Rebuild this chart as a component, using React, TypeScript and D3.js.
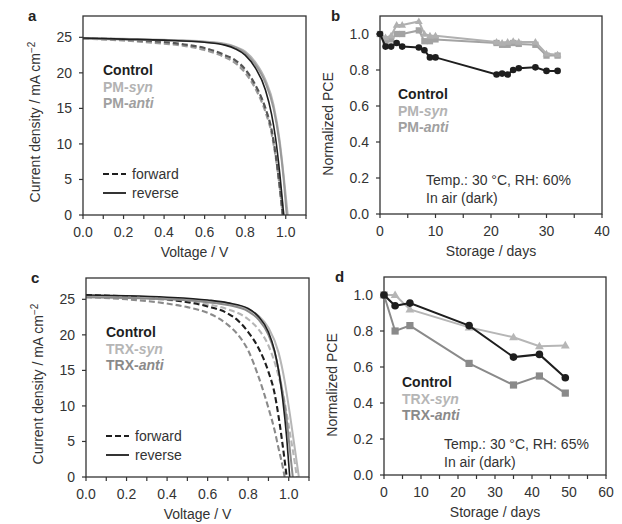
import React from "react";
import * as d3 from "d3";

const FONT = "'Liberation Sans', Arial, Helvetica, sans-serif";

// ---- J-V curves (voltage V, current density mA cm-2) ----
const ctrlRevA = [[0,24.9],[0.2,24.75],[0.4,24.6],[0.6,24.3],[0.7,23.9],[0.75,23.4],[0.8,22.5],[0.85,20.7],[0.9,17.6],[0.93,14.2],[0.95,10.8],[0.97,6.0],[0.99,0]];
const synRevA = [[0,24.9],[0.2,24.8],[0.4,24.65],[0.6,24.4],[0.7,24.1],[0.75,23.7],[0.8,23.0],[0.85,21.5],[0.9,19.0],[0.94,15.5],[0.97,10.5],[0.99,5.5],[1.01,0]];
const antiRevA = [[0,24.8],[0.2,24.7],[0.4,24.6],[0.6,24.35],[0.7,24.0],[0.75,23.6],[0.8,22.8],[0.85,21.2],[0.9,18.6],[0.94,15.0],[0.97,10.0],[0.99,5.0],[1.005,0]];
const ctrlFwdA = [[0,24.9],[0.2,24.7],[0.3,24.55],[0.4,24.35],[0.5,24.0],[0.6,23.5],[0.7,22.5],[0.75,21.8],[0.8,20.5],[0.85,18.3],[0.9,15.0],[0.93,12.0],[0.95,8.5],[0.97,4.0],[0.985,0]];
const synFwdA = [[0,24.9],[0.2,24.6],[0.4,24.2],[0.5,23.9],[0.6,23.4],[0.7,22.4],[0.75,21.6],[0.8,20.3],[0.85,18.2],[0.9,15.0],[0.93,12.0],[0.95,8.8],[0.97,4.5],[0.99,0]];
const antiFwdA = [[0,24.8],[0.2,24.55],[0.4,24.1],[0.5,23.8],[0.6,23.2],[0.7,22.2],[0.75,21.4],[0.8,20.0],[0.85,17.8],[0.9,14.5],[0.93,11.5],[0.95,8.2],[0.97,4.0],[0.985,0]];

const ctrlRevC = [[0,25.6],[0.2,25.5],[0.4,25.3],[0.6,24.9],[0.7,24.5],[0.8,23.7],[0.85,22.6],[0.9,20.4],[0.93,17.8],[0.95,15.0],[0.97,11.0],[0.99,5.5],[1.005,0]];
const synRevC = [[0,25.4],[0.2,25.3],[0.4,25.1],[0.6,24.8],[0.7,24.4],[0.8,23.6],[0.85,22.7],[0.9,21.0],[0.95,17.5],[0.98,13.5],[1.01,8.0],[1.035,3.0],[1.05,0]];
const antiRevC = [[0,25.3],[0.2,25.2],[0.4,25.0],[0.6,24.6],[0.7,24.2],[0.8,23.3],[0.85,22.2],[0.9,20.0],[0.93,17.6],[0.96,13.5],[0.99,8.0],[1.005,4.0],[1.02,0]];
const ctrlFwdC = [[0,25.6],[0.2,25.4],[0.4,25.0],[0.5,24.6],[0.6,24.0],[0.7,23.0],[0.75,22.0],[0.8,20.4],[0.85,18.2],[0.9,14.8],[0.93,11.8],[0.95,8.5],[0.97,4.5],[0.99,0]];
const synFwdC = [[0,25.4],[0.2,25.2],[0.4,24.9],[0.6,24.3],[0.7,23.6],[0.8,22.2],[0.85,20.8],[0.9,18.5],[0.95,14.2],[0.98,10.5],[1.01,5.5],[1.03,2.0],[1.04,0]];
const antiFwdC = [[0,25.3],[0.2,25.0],[0.4,24.4],[0.5,23.9],[0.6,23.1],[0.65,22.4],[0.7,21.4],[0.75,20.0],[0.8,17.8],[0.85,14.2],[0.9,9.7],[0.93,6.6],[0.95,4.0],[0.97,1.5],[0.98,0]];

// ---- stability (days, normalized PCE) ----
const daysB = [0,1,2,3,4,7,8,9,10,21,22,23,24,25,28,30,32];
const ctrlB = [1.0,0.93,0.93,0.95,0.93,0.925,0.91,0.87,0.87,0.775,0.78,0.775,0.80,0.81,0.815,0.795,0.795];
const synB = [1.0,0.98,0.99,1.05,1.05,1.07,1.0,0.99,0.99,0.955,0.95,0.955,0.96,0.955,0.955,0.89,0.885];
const antiB = [1.0,0.96,0.97,1.0,1.0,1.02,0.96,0.96,0.97,0.95,0.94,0.94,0.95,0.945,0.94,0.88,0.88];

const daysD = [0,3,7,23,35,42,49];
const ctrlD = [1.0,0.94,0.955,0.83,0.655,0.67,0.54];
const synD = [1.0,1.0,0.92,0.82,0.765,0.715,0.72];
const antiD = [1.0,0.80,0.83,0.62,0.50,0.55,0.455];

const BLACK = "#1e1e1e";
const LIGHT = "#b6b6b6";
const MID = "#999999";
const DARKGREY = "#8a8a8a";

function Frame({ x, y, xTicks, yTicks, xLabels, yLabels, xFmt, yFmt }) {
  const [x0, x1] = x.range();
  const [y0, y1] = y.range();
  return (
    <g fontFamily={FONT} fontSize={14} fill="#333">
      <rect x={x0} y={y1} width={x1 - x0} height={y0 - y1} fill="none" stroke="#333" strokeWidth={1.3} />
      {xTicks.map((t) => (
        <line key={"xt" + t} x1={x(t)} x2={x(t)} y1={y0} y2={y0 + 4} stroke="#333" strokeWidth={1.2} />
      ))}
      {yTicks.map((t) => (
        <line key={"yt" + t} x1={x0 - 4} x2={x0} y1={y(t)} y2={y(t)} stroke="#333" strokeWidth={1.2} />
      ))}
      {xLabels.map((t) => (
        <text key={"xl" + t} x={x(t)} y={y0 + 22} textAnchor="middle">{xFmt(t)}</text>
      ))}
      {yLabels.map((t) => (
        <text key={"yl" + t} x={x0 - 11} y={y(t) + 5} textAnchor="end">{yFmt(t)}</text>
      ))}
    </g>
  );
}

function JVPanel({ top, left, letter, curves, names, colors }) {
  const x = d3.scaleLinear().domain([0, 1.1]).range([left, left + 223]);
  const y = d3.scaleLinear().domain([0, 28]).range([top + 199, top]);
  const line = d3.line().x((d) => x(d[0])).y((d) => y(d[1])).curve(d3.curveMonotoneX);
  const fmt = d3.format(".1f");
  const b = y(0);
  return (
    <g>
      <defs>
        <clipPath id={"clip" + letter}>
          <rect x={left} y={top} width={223} height={199} />
        </clipPath>
      </defs>
      <g clipPath={`url(#clip${letter})`} fill="none">
        {curves.map((c, i) => (
          <path key={i} d={line(c.data)} stroke={c.color}
            strokeWidth={c.dash ? 2.1 : c.color === BLACK ? 1.6 : 2}
            strokeDasharray={c.dash ? "6,3" : null} />
        ))}
      </g>
      <Frame x={x} y={y} xTicks={d3.range(0, 1.11, 0.1)} yTicks={d3.range(0, 26, 5)}
        xLabels={d3.range(0, 1.01, 0.2)} yLabels={d3.range(0, 26, 5)}
        xFmt={fmt} yFmt={(t) => String(t)} />
      <text x={left - 55} y={top + 5} fontFamily={FONT} fontSize={15} fontWeight="bold" fill="#222">{letter}</text>
      <text transform={`translate(${left - 43},${top + 106}) rotate(-90)`} textAnchor="middle"
        fontFamily={FONT} fontSize={14} fill="#333">
        Current density / mA cm<tspan dy={-5} fontSize={10}>−2</tspan>
      </text>
      <text x={(left + x(1.1)) / 2} y={b + 42} textAnchor="middle" fontFamily={FONT} fontSize={14} fill="#333">Voltage / V</text>
      <g fontFamily={FONT} fontSize={14} fontWeight="bold">
        {names.map((n, i) => (
          <text key={n[0]} x={left + 20} y={top + 59 + i * 16.5} fill={colors[i]}>
            {n[0]}{n[1] && <tspan fontStyle="italic">{n[1]}</tspan>}
          </text>
        ))}
      </g>
      <g fontFamily={FONT} fontSize={14} fill="#333">
        <line x1={left + 20} x2={left + 43} y1={b - 41} y2={b - 41} stroke={BLACK} strokeWidth={2} strokeDasharray="6,3" />
        <text x={left + 49} y={b - 36}>forward</text>
        <line x1={left + 20} x2={left + 43} y1={b - 22} y2={b - 22} stroke={BLACK} strokeWidth={1.8} />
        <text x={left + 49} y={b - 17}>reverse</text>
      </g>
    </g>
  );
}

function Marker({ kind, cx, cy, color, s }) {
  if (kind === "circle") return <circle cx={cx} cy={cy} r={s * 0.5} fill={color} />;
  if (kind === "square") return <rect x={cx - s * 0.45} y={cy - s * 0.45} width={s * 0.9} height={s * 0.9} fill={color} />;
  const h = s * 0.95;
  return <path d={`M${cx},${cy - h * 0.6}L${cx + h * 0.58},${cy + h * 0.4}L${cx - h * 0.58},${cy + h * 0.4}Z`} fill={color} />;
}

function StabilityPanel({ top, left, letter, xMax, days, series, names, colors, note, legendY, noteY, ms }) {
  const x = d3.scaleLinear().domain([0, xMax]).range([left, left + 222]);
  const y = d3.scaleLinear().domain([0, 1.1]).range([top + 198, top]);
  const line = d3.line().x((d, i) => x(days[i])).y((d) => y(d));
  const fmt = d3.format(".1f");
  return (
    <g>
      <Frame x={x} y={y} xTicks={d3.range(0, xMax + 1, 5)} yTicks={d3.range(0, 1.01, 0.2)}
        xLabels={d3.range(0, xMax + 1, 10)} yLabels={d3.range(0, 1.01, 0.2)}
        xFmt={(t) => String(t)} yFmt={fmt} />
      {series.map((s, si) => (
        <g key={si}>
          <path d={line(s.values)} fill="none" stroke={s.color} strokeWidth={2} />
          {s.values.map((v, i) => (
            <Marker key={i} kind={s.marker} cx={x(days[i])} cy={y(v)} color={s.color} s={s.marker === "circle" ? ms * 0.95 : ms} />
          ))}
        </g>
      ))}
      <text x={left - 49} y={top + 5} fontFamily={FONT} fontSize={15} fontWeight="bold" fill="#222">{letter}</text>
      <text transform={`translate(${left - 47},${top + 108}) rotate(-90)`} textAnchor="middle"
        fontFamily={FONT} fontSize={14} fill="#333">Normalized PCE</text>
      <text x={left + 111} y={y(0) + 42} textAnchor="middle" fontFamily={FONT} fontSize={14} fill="#333">Storage / days</text>
      <g fontFamily={FONT} fontSize={14} fontWeight="bold">
        {names.map((n, i) => (
          <text key={n[0]} x={left + 18} y={legendY + i * 16.5} fill={colors[i]}>
            {n[0]}{n[1] && <tspan fontStyle="italic">{n[1]}</tspan>}
          </text>
        ))}
      </g>
      <g fontFamily={FONT} fontSize={14} fill="#333">
        <text x={note[0]} y={noteY}>{note[1]}</text>
        <text x={note[0]} y={noteY + 18}>In air (dark)</text>
      </g>
    </g>
  );
}

export default function App() {
  const namesA = [["Control", ""], ["PM-", "syn"], ["PM-", "anti"]];
  const namesC = [["Control", ""], ["TRX-", "syn"], ["TRX-", "anti"]];
  return (
    <svg width={622} height={524} style={{ position: "absolute", left: 0, top: 0, background: "#fff" }}>
      <rect width={622} height={524} fill="#fff" />
      <JVPanel top={16} left={83} letter="a" names={namesA} colors={[BLACK, "#b3b3b3", "#a0a0a0"]}
        curves={[
          { data: synFwdA, color: LIGHT, dash: true },
          { data: antiFwdA, color: MID, dash: true },
          { data: ctrlFwdA, color: "#555", dash: true },
          { data: synRevA, color: LIGHT },
          { data: antiRevA, color: MID },
          { data: ctrlRevA, color: BLACK },
        ]} />
      <StabilityPanel top={16} left={380} letter="b" xMax={40} days={daysB} ms={7}
        names={namesA} colors={[BLACK, "#b3b3b3", "#a0a0a0"]}
        series={[
          { values: antiB, color: "#a3a3a3", marker: "square" },
          { values: synB, color: "#b0b0b0", marker: "triangle" },
          { values: ctrlB, color: BLACK, marker: "circle" },
        ]}
        legendY={99} note={[426, "Temp.: 30 °C, RH: 60%"]} noteY={185} />
      <JVPanel top={278} left={86} letter="c" names={namesC} colors={[BLACK, LIGHT, DARKGREY]}
        curves={[
          { data: synFwdC, color: LIGHT, dash: true },
          { data: antiFwdC, color: DARKGREY, dash: true },
          { data: ctrlFwdC, color: BLACK, dash: true },
          { data: synRevC, color: LIGHT },
          { data: antiRevC, color: DARKGREY },
          { data: ctrlRevC, color: BLACK },
        ]} />
      <StabilityPanel top={277} left={384} letter="d" xMax={60} days={daysD} ms={8}
        names={namesC} colors={[BLACK, LIGHT, DARKGREY]}
        series={[
          { values: synD, color: LIGHT, marker: "triangle" },
          { values: antiD, color: DARKGREY, marker: "square" },
          { values: ctrlD, color: BLACK, marker: "circle" },
        ]}
        legendY={387} note={[444, "Temp.: 30 °C, RH: 65%"]} noteY={449} />
    </svg>
  );
}
